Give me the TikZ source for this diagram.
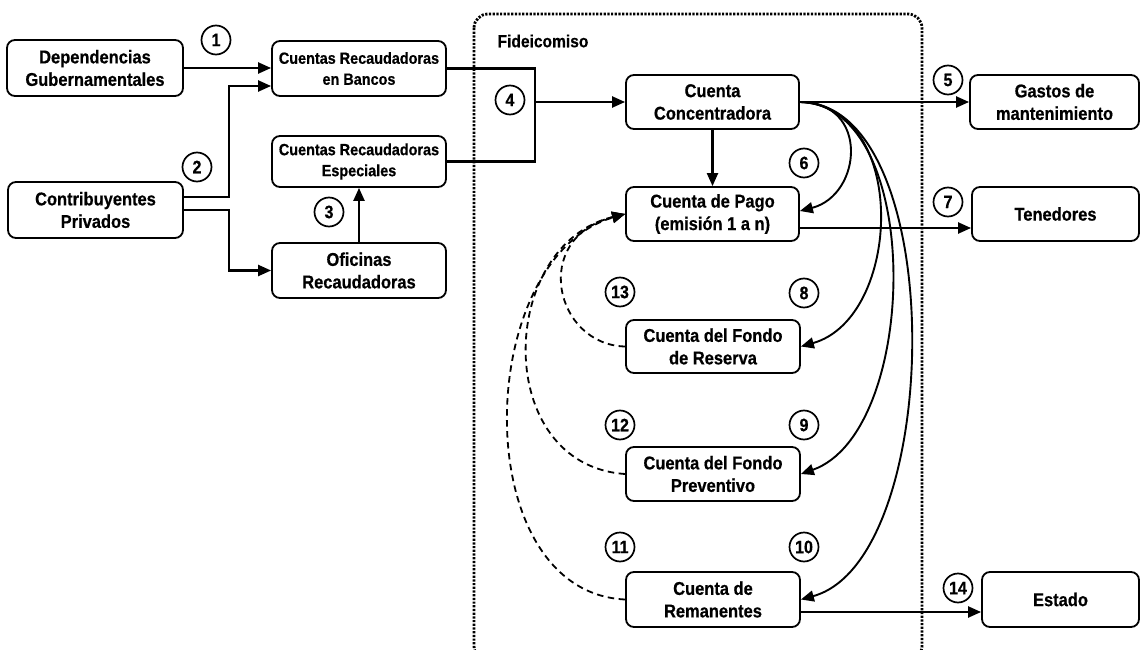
\documentclass[tikz,border=0pt]{standalone}
\usepackage{fontspec}
\setmainfont[FakeStretch=0.89, BoldFeatures={FakeBold=0.6}]{Liberation Sans}
\usetikzlibrary{arrows.meta,calc}
\begin{document}
\begin{tikzpicture}[x=1pt,y=-1pt,
  box/.style={draw, line width=1.8pt, rounded corners=8pt, align=center,
    font=\fontsize{18.5}{22.5}\selectfont\bfseries, inner sep=0pt},
  smallbox/.style={box, font=\fontsize{16.2}{21}\selectfont\bfseries},
  num/.style={draw, circle, line width=1.7pt, minimum size=29pt, inner sep=0pt,
    font=\fontsize{18}{18}\selectfont\bfseries},
  arr/.style={line width=2.2pt, -{Triangle[length=13pt,width=11pt]}},
  plain/.style={line width=2.2pt},
  curv/.style={line width=1.9pt, -{Triangle[length=13pt,width=11pt]}},
  dsh/.style={line width=1.8pt, dash pattern=on 6.5pt off 4.5pt, -{Triangle[length=13pt,width=11pt]}},
  frame/.style={line width=2.8pt, dash pattern=on 2.2pt off 1.5pt, rounded corners=14pt}
]
\useasboundingbox (0,0) rectangle (1141,650);
\clip (0,0) rectangle (1141,650);

% Fideicomiso frame
\draw[frame] (474,14) rectangle (922,660);
\node[anchor=west, font=\fontsize{17.5}{17.5}\selectfont\bfseries] (fidlabel) at (494,41) {Fideicomiso};

% boxes
\node[box, minimum width=176pt, minimum height=56pt] (dep) at (95,68) {Dependencias\\Gubernamentales};
\node[box, minimum width=175pt, minimum height=56pt] (contrib) at (95.5,210) {Contribuyentes\\Privados};
\node[smallbox, minimum width=174pt, minimum height=55pt] (bancos) at (359,68.5) {Cuentas Recaudadoras\\en Bancos};
\node[smallbox, minimum width=174pt, minimum height=51pt] (especiales) at (359,161.5) {Cuentas Recaudadoras\\Especiales};
\node[box, minimum width=174pt, minimum height=55pt] (oficinas) at (359,270.5) {Oficinas\\Recaudadoras};

\node[box, minimum width=173pt, minimum height=54pt] (conc) at (712.5,102) {Cuenta\\Concentradora};
\node[box, minimum width=173pt, minimum height=54pt] (pago) at (712.5,214) {Cuenta de Pago\\(emisión 1 a n)};
\node[box, minimum width=174pt, minimum height=53pt] (reserva) at (713,346.5) {Cuenta del Fondo\\de Reserva};
\node[box, minimum width=174pt, minimum height=54pt] (preventivo) at (713,474) {Cuenta del Fondo\\Preventivo};
\node[box, minimum width=174pt, minimum height=55pt] (remanentes) at (713,599.5) {Cuenta de\\Remanentes};

\node[box, minimum width=169pt, minimum height=54pt] (gastos) at (1054.5,102) {Gastos de\\mantenimiento};
\node[box, minimum width=167pt, minimum height=54pt] (tenedores) at (1055.5,214) {Tenedores};
\node[box, minimum width=157pt, minimum height=55pt] (estado) at (1060.5,599.5) {Estado};

% number circles
\node[num] (n1) at (216,40) {1};
\node[num] (n2) at (197,167) {2};
\node[num] (n3) at (329,212) {3};
\node[num] (n4) at (510,100) {4};
\node[num] (n5) at (948,80) {5};
\node[num] (n6) at (804,163) {6};
\node[num] (n7) at (948,202) {7};
\node[num] (n8) at (804,293) {8};
\node[num] (n9) at (804,425) {9};
\node[num] (n10) at (804,547) {10};
\node[num] (n11) at (620,547) {11};
\node[num] (n12) at (620,425) {12};
\node[num] (n13) at (620,292) {13};
\node[num] (n14) at (958,588) {14};

% left connectors
\draw[arr] (dep.east) -- (dep.east -| bancos.west);
\draw[arr] ([yshift=13pt]contrib.east) -- ++(45,0) |- ([yshift=-17.5pt]bancos.west);
\draw[arr] (contrib.east) -- ++(45,0) |- (oficinas.west);
\draw[arr] (oficinas.north) -- (especiales.south);

\coordinate (j) at (535,102);
\draw[plain] (bancos.east) -| (j);
\draw[plain] (especiales.east) -| (j);
\draw[arr] (j) -- (conc.west);

% right connectors
\draw[arr] (conc.east) -- (gastos.west);
\draw[arr] ([yshift=-14pt]pago.east) -- ([yshift=-14pt]tenedores.west);
\draw[arr] ([yshift=-12.5pt]remanentes.east) -- ([yshift=-12.5pt]estado.west);
\draw[arr] (conc.south) -- (pago.north);

% curved solid connectors
\draw[curv] (conc.east) .. controls (870,102) and (862,195) .. ([yshift=3pt]pago.east);
\draw[curv] (conc.east) .. controls (910,106) and (902,318) .. (reserva.east);
\draw[curv] (conc.east) .. controls (925,104) and (920,432) .. (preventivo.east);
\draw[curv] (conc.east) .. controls (950,102) and (945,560) .. (remanentes.east);

% dashed connectors
\draw[dsh] (reserva.west) .. controls (555,345) and (530,238) .. (pago.west);
\draw[dsh] (preventivo.west) .. controls (492,465) and (497,245) .. (pago.west);
\draw[dsh] (remanentes.west) .. controls (466,592) and (473,258) .. (pago.west);
\end{tikzpicture}
\end{document}
